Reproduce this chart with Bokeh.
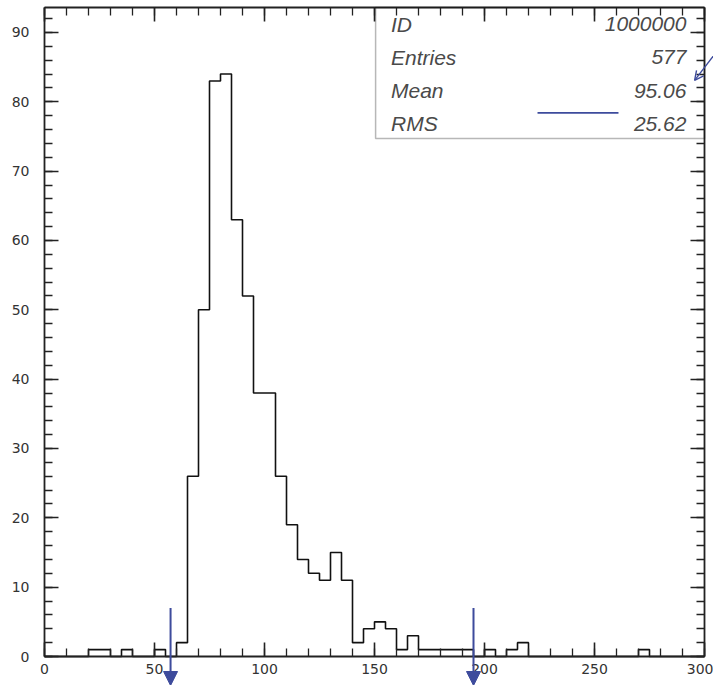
from bokeh.plotting import figure
from bokeh.models import (Range1d, LinearAxis, Arrow, OpenHead, NormalHead,
                          BoxAnnotation, ColumnDataSource, SingleIntervalTicker,
                          CustomLabelingPolicy)
from bokeh.core.properties import value
from bokeh.embed import file_html
from bokeh.resources import INLINE

# ---- data ----
bin_starts = list(range(0, 300, 5))
counts = [0, 0, 0, 0, 1, 1, 0, 1, 0, 0,
          1, 0, 2, 26, 50, 83, 84, 63, 52, 38,
          38, 26, 19, 14, 12, 11, 15, 11, 2, 4,
          5, 4, 1, 3, 1, 1, 1, 1, 1, 0,
          1, 0, 1, 2, 0, 0, 0, 0, 0, 0,
          0, 0, 0, 0, 1, 0, 0, 0, 0, 0]
stat_names = ["ID", "Entries", "Mean", "RMS"]
stat_values = ["1000000", "577", "95.06", "25.62"]
cut_positions = [57.3, 195.0]

X_MAX = 300
Y_MAX = 93.6
# visible window in data units (frame fills the whole canvas; axes sit at fixed locations)
X_LO, X_HI = -20.0, 304.09
Y_LO, Y_HI = -4.18, 94.61
BLUE = "#3d4b9c"
AX = "#222222"

p = figure(width=713, height=685, x_range=Range1d(X_LO, X_HI), y_range=Range1d(Y_LO, Y_HI),
           output_backend="svg", toolbar_location=None,
           x_axis_location=None, y_axis_location=None,
           min_border_left=0, min_border_right=0, min_border_top=0, min_border_bottom=0)
p.grid.visible = False
p.outline_line_color = None
p.background_fill_color = "white"
p.border_fill_color = "white"


def style_axis(ax, show_labels, standoff):
    ax.axis_line_color = AX
    ax.axis_line_width = 1.8
    ax.major_tick_in = 14
    ax.major_tick_out = 0
    ax.minor_tick_in = 8
    ax.minor_tick_out = 0
    ax.major_tick_line_color = AX
    ax.minor_tick_line_color = AX
    ax.major_tick_line_width = 1.6
    ax.minor_tick_line_width = 1.3
    if show_labels:
        ax.major_label_text_font = "DejaVu Sans"
        ax.major_label_text_font_size = "14px"
        ax.major_label_text_color = "#333333"
        ax.major_label_standoff = standoff
    else:
        ax.major_label_policy = CustomLabelingPolicy(code="return []")
        ax.major_label_standoff = 0


xb = LinearAxis(ticker=SingleIntervalTicker(interval=50, num_minor_ticks=5),
                fixed_location=0, bounds=(0, X_MAX))
style_axis(xb, True, 7)
p.add_layout(xb, "below")
xt = LinearAxis(ticker=SingleIntervalTicker(interval=50, num_minor_ticks=5),
                fixed_location=Y_MAX, bounds=(0, X_MAX))
style_axis(xt, False, 0)
p.add_layout(xt, "above")
yl = LinearAxis(ticker=SingleIntervalTicker(interval=10, num_minor_ticks=5),
                fixed_location=0, bounds=(0, Y_MAX))
style_axis(yl, True, 15)
p.add_layout(yl, "left")
yr = LinearAxis(ticker=SingleIntervalTicker(interval=10, num_minor_ticks=5),
                fixed_location=X_MAX, bounds=(0, Y_MAX))
style_axis(yr, False, 0)
p.add_layout(yr, "right")

# ---- histogram outline ----
edges = bin_starts + [X_MAX]
levels = counts + [0]
p.step(edges, levels, mode="after", line_color="#111111", line_width=1.6)

# ---- stats box ----
p.add_layout(BoxAnnotation(left=150.5, right=X_MAX, bottom=74.7, top=Y_MAX,
                           fill_color=None, line_color="#111111", line_width=1.5))
rows_y = [91.2 - 4.8 * i for i in range(len(stat_names))]
src = ColumnDataSource(dict(name=stat_names, val=stat_values, y=rows_y))
common = dict(source=src, y="y", text_font=value("Liberation Sans"), text_font_style="italic",
              text_font_size="21px", text_color="#4a4a4a", text_baseline="middle")
p.text(x=157.5, text="name", text_align="left", **common)
p.text(x=291.8, text="val", text_align="right", **common)

# ---- cut arrows ----
for c in cut_positions:
    p.add_layout(Arrow(end=NormalHead(size=14, fill_color=BLUE, line_color=BLUE, line_width=1),
                       x_start=c, y_start=7.0, x_end=c, y_end=Y_LO,
                       line_color=BLUE, line_width=2))

# ---- slide annotation strokes ----
p.add_layout(Arrow(end=None, x_start=224.1, y_start=78.4, x_end=260.9, y_end=78.4,
                   line_color=BLUE, line_width=1.6))
p.add_layout(Arrow(end=OpenHead(size=9, line_color=BLUE, line_width=1.4),
                   x_start=304.5, y_start=86.8, x_end=295.5, y_end=83.1,
                   line_color=BLUE, line_width=1.4))

open("out.html", "w").write(file_html(p, INLINE))
